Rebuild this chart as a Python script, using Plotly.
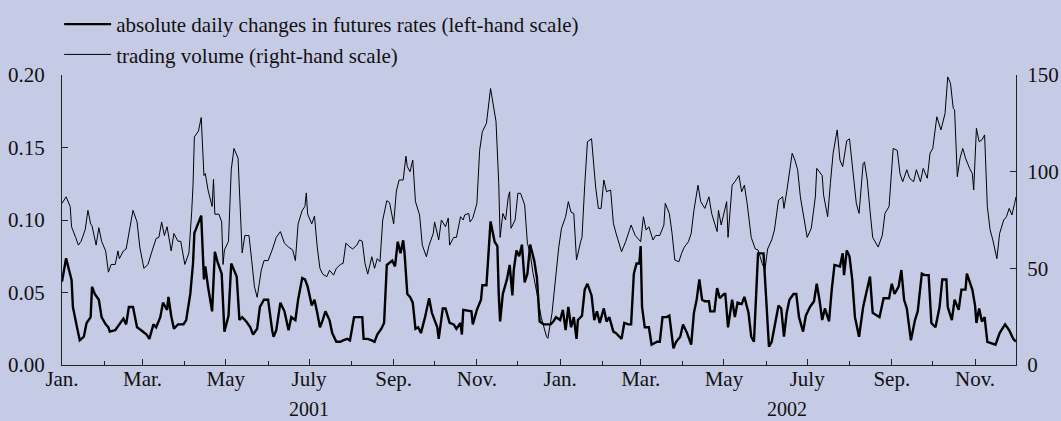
import pandas as pd
import plotly.graph_objects as go

# days since 1 Jan 2001
chg_day = [0, 3, 7, 8, 11, 13, 16, 18, 21, 22, 24, 27, 29, 32, 34, 35, 39, 42, 45, 47, 49, 52, 53, 55, 58, 62, 64, 67, 69, 72,
           74, 77, 78, 80, 82, 85, 89, 91, 94, 96, 97, 102, 104, 105, 107, 110, 112, 114, 117, 119, 122, 124, 128, 130, 132,
           135, 138, 140, 143, 145, 148, 151, 154, 155, 157, 160, 163, 166, 168,
           171, 173, 176, 178, 180, 183, 185, 187, 189, 191, 193, 196, 198, 201, 204, 206, 209, 211, 214, 216, 220, 221, 224,
           227, 229, 231, 234, 236, 238, 242, 244, 246, 248, 250, 251, 253, 255, 257, 259, 261, 263, 266, 269, 271, 273, 275,
           276, 279, 281, 284, 287, 289, 292, 293, 294, 298, 300, 301, 304, 307, 308, 311, 313, 314, 317, 319, 320, 321, 323,
           326, 328, 330, 331, 333, 335, 337, 339, 341, 343, 346, 348, 350, 353,
           358, 360, 362, 365, 367, 369, 371, 373, 375, 377, 378, 381, 383, 385, 388, 390, 392, 394, 397, 399, 401, 404, 406,
           410, 412, 415, 417, 419, 421, 423, 424, 425, 427, 430, 432, 436, 438, 440, 443, 445, 448, 450, 453, 455, 458, 461,
           463, 465, 467, 469, 471, 474, 475, 478, 480, 482, 485, 486, 488, 491, 493, 495, 498, 500, 503, 505, 507, 510, 512,
           514, 516, 518, 520, 522, 525, 527,
           529, 531, 533, 536, 538, 540, 543, 545, 548, 551, 553, 555, 557, 559, 562, 564, 566, 570, 572, 573, 575, 577, 579,
           581, 584, 587, 589, 592, 594, 597, 599, 602, 606, 608, 610, 613, 615, 617, 619, 622, 625, 627, 630, 632, 635, 637,
           640, 643, 645, 648, 649, 652, 654, 657, 659, 662, 663, 667, 669, 670, 672, 674, 676, 678, 681, 684, 687, 691, 694,
           697, 699]
chg_val = [0.0575, 0.0736, 0.0586, 0.040, 0.026, 0.017, 0.0195, 0.029, 0.033, 0.054, 0.049, 0.045, 0.033, 0.028, 0.026,
           0.023, 0.024, 0.028, 0.032, 0.028, 0.040, 0.040, 0.036, 0.026, 0.024, 0.021, 0.018, 0.028, 0.026, 0.033,
           0.043, 0.038, 0.047, 0.034, 0.025, 0.028, 0.028, 0.031, 0.049, 0.070, 0.091, 0.103, 0.059, 0.068, 0.054, 0.037,
           0.078, 0.071, 0.063, 0.023, 0.034, 0.070, 0.061, 0.031, 0.033,
           0.030, 0.026, 0.021, 0.025, 0.040, 0.045, 0.045, 0.024, 0.0195, 0.024, 0.043, 0.037, 0.024, 0.033,
           0.031, 0.045, 0.060, 0.059, 0.054, 0.041, 0.045, 0.036, 0.026, 0.031, 0.037, 0.031, 0.022, 0.016, 0.016, 0.017,
           0.018, 0.017, 0.033, 0.033, 0.033, 0.018, 0.018,
           0.017, 0.016, 0.021, 0.025, 0.029, 0.069, 0.072, 0.068, 0.085, 0.077, 0.086, 0.077, 0.049, 0.047, 0.043, 0.025,
           0.026, 0.022, 0.033, 0.046, 0.036, 0.031, 0.026,
           0.018, 0.039, 0.039, 0.029, 0.028, 0.025, 0.029, 0.021, 0.038, 0.037, 0.037, 0.028, 0.038, 0.045, 0.055, 0.055,
           0.0885, 0.099, 0.085, 0.082, 0.049, 0.030, 0.049,
           0.059, 0.069, 0.048, 0.0655, 0.079, 0.075, 0.083, 0.057, 0.063, 0.083, 0.072, 0.060, 0.030, 0.028,
           0.028, 0.030, 0.033, 0.031, 0.038, 0.024, 0.040, 0.026, 0.033, 0.018, 0.031, 0.034, 0.052, 0.056, 0.048, 0.031,
           0.037, 0.029, 0.039, 0.030, 0.033, 0.023, 0.022,
           0.018, 0.029, 0.028, 0.028, 0.063, 0.070, 0.070, 0.082, 0.040, 0.026, 0.026, 0.014, 0.016, 0.016, 0.033, 0.033,
           0.034, 0.0115, 0.016, 0.0195, 0.028, 0.022, 0.014,
           0.036, 0.045, 0.059, 0.045, 0.044, 0.044, 0.037, 0.037, 0.053, 0.046, 0.049, 0.049, 0.026, 0.045, 0.033, 0.043,
           0.042, 0.047, 0.036, 0.0195, 0.016, 0.077, 0.077,
           0.077, 0.045, 0.0126, 0.016, 0.026, 0.041, 0.039,
           0.0195, 0.036, 0.045, 0.049, 0.049, 0.033, 0.023, 0.034, 0.040, 0.044, 0.056, 0.045, 0.031, 0.039, 0.030, 0.052,
           0.069, 0.068, 0.077, 0.062, 0.079, 0.075, 0.059,
           0.033, 0.0195, 0.040, 0.049, 0.061, 0.036, 0.034, 0.033, 0.046, 0.046, 0.056, 0.049, 0.054, 0.0655, 0.045, 0.039,
           0.017, 0.031, 0.037, 0.063, 0.062, 0.062, 0.029,
           0.026, 0.040, 0.059, 0.059, 0.040, 0.031, 0.045, 0.038, 0.052, 0.052, 0.063, 0.052, 0.041, 0.029, 0.039, 0.030,
           0.033, 0.016, 0.015, 0.014, 0.022, 0.028, 0.024,
           0.018, 0.016]

vol_day = [0, 3, 6, 7, 10, 12, 14, 17, 19, 21, 22, 25, 27, 29, 32, 34, 36, 39, 41, 42, 45, 47, 50, 52, 55, 57, 60, 63,
           66, 69, 71, 73, 75, 77, 80, 82, 85, 87, 90, 93, 95, 96, 97, 100, 102, 104, 105, 107, 110, 111, 112, 115, 117,
           118, 119, 122, 124, 126, 129, 131, 132, 134, 137, 139, 141, 143, 146, 148, 151, 154, 157, 160, 163, 166, 169,
           171, 173, 176, 178, 179, 180, 183, 185, 187, 189, 191, 194, 196, 199, 201, 204, 206, 208, 211, 213, 216, 218,
           220, 222, 224, 227, 229, 231, 233, 235, 238, 240, 243, 245, 247, 250, 252, 253, 255, 257, 259, 262, 264, 267,
           269, 272, 273, 276, 278, 281, 283, 284, 287, 289, 292, 294, 295, 298, 299, 301, 304, 306, 308, 311, 314, 316,
           318, 320, 321, 323, 325, 327, 328, 329, 332, 334, 336, 339, 341, 343, 345, 348, 351, 355,
           356, 359, 361, 364, 366, 369, 371, 373, 375, 377, 380, 381, 383, 385, 388, 391, 393, 395, 397, 399, 402, 404,
           406, 410, 413, 415, 417, 420, 424, 426, 428, 430, 433, 435, 438, 441, 442, 445, 447, 449, 452, 454, 456, 459,
           461, 463, 466, 468, 471, 474, 476, 480, 481, 483, 487, 488, 491, 493, 496, 498, 500, 502, 505, 508, 510, 513,
           515, 517, 520, 522, 525, 528,
           529, 531, 533, 535, 537, 539, 541, 544, 546, 549, 552, 553, 557, 558, 561, 563, 565, 568, 570, 572, 575, 577,
           580, 582, 584, 587, 588, 590, 592, 594, 598, 601, 603, 606, 609, 612, 614, 616, 619, 621, 624, 626, 629, 631,
           634, 636, 638, 641, 644, 647, 649, 651, 653, 654, 656, 658, 660, 662, 665, 667, 668, 670, 672, 674, 676, 678,
           680, 682, 685, 687, 690, 692, 694, 696, 698, 699]
vol_val = [83.6, 87, 82, 71.5, 66, 62, 64, 70, 80, 73, 72, 62, 71, 64, 59, 48, 52, 52, 59, 55, 59, 60, 72, 80, 74, 61,
           50, 52, 59, 65.5, 66, 74, 67, 71.5, 59, 68, 64, 64, 52, 58, 79, 93, 118, 121, 128, 98, 99, 90.5, 82, 96, 78,
           78, 74, 52, 59.5, 64, 101, 112, 107, 68, 58, 67, 67, 54, 40.5, 35, 49, 54, 54, 59.5, 66, 69, 63, 61, 59.5,
           54, 73, 80, 82, 89, 78, 73, 77, 61, 50, 47, 45.7, 49, 46.5, 50, 52, 52.6, 63, 61, 60, 62, 64.7,
           64, 52.6, 47, 56, 50, 55, 53.4, 75, 85, 84, 73, 90, 95.7, 95.7, 108, 102.6, 100, 106, 84.5, 77.6, 62, 56,
           62, 68, 74, 64.7, 75, 71.5, 76, 62, 66, 66, 76.7, 75, 77.6, 78.4, 74, 76, 83.6, 111, 120.7, 125, 143, 133.6,
           126, 94, 66, 78.4, 75, 87, 89.6, 70.7, 75, 88.8, 88.8, 82.8, 63, 57.8, 48, 37, 25, 14.7,
           13.8, 26.7, 40.5, 61, 70.7, 76.7, 84.5, 79, 78.4, 54.3, 63.8, 66, 93, 115.5, 117, 92, 81, 81, 95.7, 89.6,
           90.5, 73.3, 68, 58.6, 63.8, 68, 72.4, 67, 63.8, 76.7, 69.8, 71.5, 64.7, 67, 67, 72.4, 83.6, 78.4, 68, 54.3,
           53.4, 57.8, 61, 63.8, 68, 80, 93, 84.5, 81, 87, 78.4, 69, 80, 72.4, 84.5, 66, 93, 94.8, 98, 89.6, 93, 83.6,
           66, 60, 59.5, 52.6, 49, 60, 64.7, 69.8, 85.3, 87,
           81, 89.6, 101, 109.5, 106, 101, 87, 75, 66, 70.7, 87, 101.7, 98, 88, 76.7, 94, 109.5, 121.6, 106, 102.6, 116,
           117, 95.7, 83.6, 78.4, 104.3, 105, 95.7, 80, 66, 61, 67, 78.4, 82, 112, 111, 99, 94.8, 101, 96.6, 94.8, 101,
           94.8, 101.7, 96.6, 109.5, 112, 128.4, 121.6, 130, 149, 145.7, 132.8, 132, 97.4, 107, 112, 107, 101.7, 99,
           90.5, 122.4, 115.5, 116.4, 119, 82, 70, 64.7, 55, 68, 75, 76.7, 81, 77.6, 83.6, 87]

month_ticks = ["2001-01-01", "2001-03-01", "2001-05-01", "2001-07-01", "2001-09-01", "2001-11-01",
               "2002-01-01", "2002-03-01", "2002-05-01", "2002-07-01", "2002-09-01", "2002-11-01"]
month_labels = ["Jan.", "Mar.", "May", "July", "Sep.", "Nov."] * 2
year_labels = ["2001", "2002"]
year_pos = ["2001-07-01", "2002-06-16"]

start = pd.Timestamp("2001-01-01")
chg_x = start + pd.to_timedelta(chg_day, unit="D")
vol_x = start + pd.to_timedelta(vol_day, unit="D")

BG = "#c6cbe5"
FONT = "Liberation Serif"
AX = "#222222"

fig = go.Figure()
fig.add_trace(go.Scatter(x=chg_x, y=chg_val, mode="lines",
                         name="absolute daily changes in futures rates (left-hand scale)",
                         line=dict(color="black", width=2.4)))
fig.add_trace(go.Scatter(x=vol_x, y=vol_val, mode="lines", yaxis="y2",
                         name="trading volume (right-hand scale)",
                         line=dict(color="black", width=1)))

for lab, pos in zip(year_labels, year_pos):
    fig.add_annotation(x=pos, xref="x", y=-0.150, yref="paper", text=lab, showarrow=False,
                       font=dict(family=FONT, size=20, color="#111"), yanchor="middle")

fig.update_layout(
    width=1061, height=421,
    margin=dict(l=62, r=45, t=75, b=56, autoexpand=False),
    paper_bgcolor=BG, plot_bgcolor=BG,
    font=dict(family=FONT, size=21, color="#111"),
    showlegend=True,
    legend=dict(x=-0.003, y=1.245, xanchor="left", yanchor="top", bgcolor="rgba(0,0,0,0)",
                font=dict(family=FONT, size=21), itemwidth=47, tracegroupgap=0),
    xaxis=dict(type="date", range=["2001-01-01", "2002-12-01"], tickvals=month_ticks, ticktext=month_labels,
               ticks="inside", ticklen=6, tickcolor=AX, showline=True, linecolor=AX, linewidth=1,
               showgrid=False, zeroline=False, ticklabelstandoff=-5,
               minor=dict(dtick="M1", tick0="2001-01-01", ticks="inside", ticklen=4, tickcolor=AX, showgrid=False)),
    yaxis=dict(range=[0, 0.2], tickvals=[0, 0.05, 0.1, 0.15, 0.2], tickformat=".2f", ticks="inside",
               ticklen=6, tickcolor=AX, showline=True, linecolor=AX, linewidth=1, showgrid=False,
               zeroline=False, ticklabelstandoff=12),
    yaxis2=dict(range=[0, 150], tickvals=[0, 50, 100, 150], overlaying="y", side="right", ticks="inside",
                ticklen=6, tickcolor=AX, showline=True, linecolor=AX, linewidth=1, showgrid=False,
                zeroline=False, ticklabelstandoff=6),
)

fig.write_html("out.html", config={"displayModeBar": False},
               post_script="document.body.style.margin='0';document.body.style.background='" + BG + "';")
